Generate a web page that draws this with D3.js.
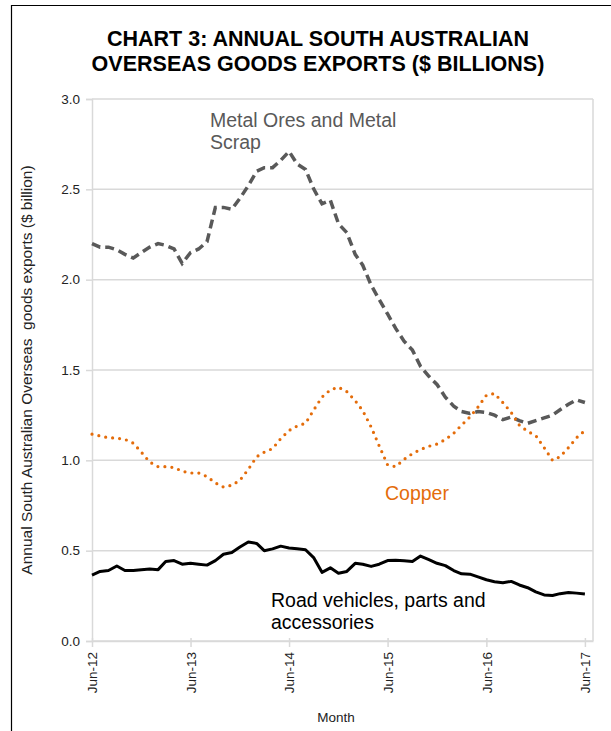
<!DOCTYPE html>
<html>
<head>
<meta charset="utf-8">
<script src="https://cdn.jsdelivr.net/npm/d3@7"></script>
<style>
  body { margin: 0; background: #fff; }
  svg text { font-family: "Liberation Sans", Arial, sans-serif; }
</style>
</head>
<body>
<svg id="chart"></svg>
<script>
// monthly values, Jun-12 .. Jun-17 ($ billion, annual)
const metalOres = [2.20, 2.18, 2.18, 2.165, 2.14, 2.12, 2.15, 2.18, 2.20, 2.19,
  2.17, 2.09, 2.15, 2.17, 2.21, 2.40, 2.40, 2.39, 2.45, 2.52,
  2.60, 2.62, 2.62, 2.66, 2.71, 2.64, 2.61, 2.50, 2.42, 2.44,
  2.31, 2.26, 2.14, 2.08, 1.97, 1.89, 1.81, 1.73, 1.66, 1.61,
  1.52, 1.465, 1.42, 1.35, 1.30, 1.27, 1.26, 1.27, 1.265, 1.25,
  1.225, 1.24, 1.22, 1.205, 1.22, 1.235, 1.25, 1.28, 1.31, 1.335, 1.32];

const copper = [1.145, 1.135, 1.125, 1.123, 1.116, 1.095, 1.045, 0.99, 0.965, 0.965,
  0.96, 0.94, 0.93, 0.93, 0.91, 0.875, 0.852, 0.862, 0.89, 0.95,
  1.02, 1.045, 1.065, 1.12, 1.165, 1.19, 1.205, 1.28, 1.35, 1.39,
  1.405, 1.38, 1.33, 1.275, 1.185, 1.08, 0.975, 0.965, 1.005, 1.037,
  1.06, 1.078, 1.09, 1.115, 1.15, 1.195, 1.24, 1.295, 1.36, 1.37,
  1.32, 1.265, 1.195, 1.16, 1.137, 1.07, 1.00, 1.02, 1.07, 1.125, 1.165];

const roadVehicles = [0.365, 0.385, 0.39, 0.415, 0.39, 0.39, 0.395, 0.398, 0.395, 0.44,
  0.445, 0.425, 0.43, 0.425, 0.42, 0.445, 0.48, 0.49, 0.52, 0.548,
  0.54, 0.50, 0.51, 0.525, 0.515, 0.51, 0.505, 0.46, 0.38, 0.405,
  0.375, 0.385, 0.43, 0.425, 0.413, 0.425, 0.445, 0.447, 0.444, 0.44,
  0.47, 0.45, 0.43, 0.417, 0.39, 0.372, 0.37, 0.355, 0.339, 0.328,
  0.322, 0.33, 0.31, 0.295, 0.272, 0.255, 0.252, 0.262, 0.268, 0.265, 0.26];

const firstMonth = new Date(2012, 5, 1);
const xTickLabels = ["Jun-12", "Jun-13", "Jun-14", "Jun-15", "Jun-16", "Jun-17"];
const yTicks = [0, 0.5, 1.0, 1.5, 2.0, 2.5, 3.0];

const width = 611, height = 731;
const margin = { top: 99, right: 18, bottom: 90, left: 92 };

const months = metalOres.map((_, i) => d3.timeMonth.offset(firstMonth, i));
const tickDates = xTickLabels.map((_, i) => d3.timeYear.offset(firstMonth, i));

const svg = d3.select("#chart")
    .attr("width", width)
    .attr("height", height);

// outer frame (only left and top edges are in view)
svg.append("path")
    .attr("d", "M11.5,731 V5.5 H611")
    .attr("fill", "none")
    .attr("stroke", "#000")
    .attr("stroke-width", 1.2);

const x = d3.scaleTime()
    .domain([firstMonth, d3.timeMonth.offset(firstMonth, 61)])
    .range([margin.left, width - margin.right]);

const y = d3.scaleLinear()
    .domain([0, 3])
    .range([height - margin.bottom, margin.top]);

// title
svg.append("text")
    .attr("x", 318).attr("y", 46)
    .attr("text-anchor", "middle")
    .style("font-size", "21.5px").style("font-weight", "bold")
    .text("CHART 3: ANNUAL SOUTH AUSTRALIAN");
svg.append("text")
    .attr("x", 318).attr("y", 71)
    .attr("text-anchor", "middle")
    .style("font-size", "21.5px").style("font-weight", "bold")
    .text("OVERSEAS GOODS EXPORTS ($ BILLIONS)");

// gridlines
svg.append("g")
    .selectAll("line")
    .data(yTicks)
    .enter().append("line")
    .attr("x1", margin.left).attr("x2", width - margin.right)
    .attr("y1", d => y(d)).attr("y2", d => y(d))
    .attr("stroke", "#d9d9d9")
    .attr("stroke-width", 1.5);

// right edge of plot area
svg.append("line")
    .attr("x1", width - margin.right).attr("x2", width - margin.right)
    .attr("y1", y(3)).attr("y2", y(0))
    .attr("stroke", "#d9d9d9").attr("stroke-width", 1.5);

// y axis
const yAxis = d3.axisLeft(y)
    .tickValues(yTicks)
    .tickFormat(d3.format(".1f"))
    .tickSize(6)
    .tickPadding(6);

const gy = svg.append("g")
    .attr("transform", `translate(${margin.left},0)`)
    .call(yAxis);
gy.select(".domain").attr("stroke", "#d9d9d9").attr("stroke-width", 1.5);
gy.selectAll(".tick line").attr("stroke", "#d9d9d9").attr("stroke-width", 1.5);
gy.selectAll(".tick text")
    .attr("fill", "#222")
    .style("font-size", "13.5px")
    .style("font-family", "'Liberation Sans', Arial, sans-serif");

// x axis
const xAxis = d3.axisBottom(x)
    .tickValues(tickDates)
    .tickFormat((d, i) => xTickLabels[i])
    .tickSize(6)
    .tickSizeOuter(0);

const gx = svg.append("g")
    .attr("transform", `translate(0,${y(0)})`)
    .call(xAxis);
gx.select(".domain").attr("stroke", "#d9d9d9").attr("stroke-width", 1.5);
gx.selectAll(".tick line")
    .attr("y1", -3)
    .attr("stroke", "#d9d9d9").attr("stroke-width", 1.5);
gx.selectAll(".tick text")
    .attr("fill", "#222")
    .style("font-size", "13.5px")
    .style("font-family", "'Liberation Sans', Arial, sans-serif")
    .attr("text-anchor", "end")
    .attr("transform", "rotate(-90)")
    .attr("x", -11)
    .attr("y", 0)
    .attr("dy", "0.35em");

// axis titles
svg.append("text")
    .attr("x", 336).attr("y", 722)
    .attr("text-anchor", "middle")
    .style("font-size", "13.5px")
    .attr("fill", "#222")
    .text("Month");

svg.append("text")
    .attr("transform", `translate(32,${(y(0) + y(3)) / 2}) rotate(-90)`)
    .attr("text-anchor", "middle")
    .style("font-size", "15.5px")
    .style("white-space", "pre")
    .attr("fill", "#222")
    .text("Annual South Australian Overseas  goods exports ($ billion)");

// lines
const line = d3.line()
    .x((d, i) => x(months[i]))
    .y(d => y(d));

svg.append("path")
    .datum(metalOres)
    .attr("d", line)
    .attr("fill", "none")
    .attr("stroke", "#595959")
    .attr("stroke-width", 3.5)
    .attr("stroke-dasharray", "9,5");

svg.append("path")
    .datum(copper)
    .attr("d", line)
    .attr("fill", "none")
    .attr("stroke", "#e46c0a")
    .attr("stroke-width", 3.2)
    .attr("stroke-linecap", "round")
    .attr("stroke-dasharray", "0,7");

svg.append("path")
    .datum(roadVehicles)
    .attr("d", line)
    .attr("fill", "none")
    .attr("stroke", "#000")
    .attr("stroke-width", 3)
    .attr("stroke-linejoin", "round");

// series labels
const label = (lines, x0, y0, colour) => {
    const t = svg.append("text")
        .attr("x", x0).attr("y", y0)
        .attr("fill", colour)
        .style("font-size", "19.5px");
    lines.forEach((s, i) => {
        t.append("tspan").attr("x", x0).attr("dy", i ? 22 : 0).text(s);
    });
};
label(["Metal Ores and Metal", "Scrap"], 210, 127, "#595959");
label(["Copper"], 385, 500, "#e46c0a");
label(["Road vehicles, parts and", "accessories"], 271, 607, "#000");
</script>
</body>
</html>
